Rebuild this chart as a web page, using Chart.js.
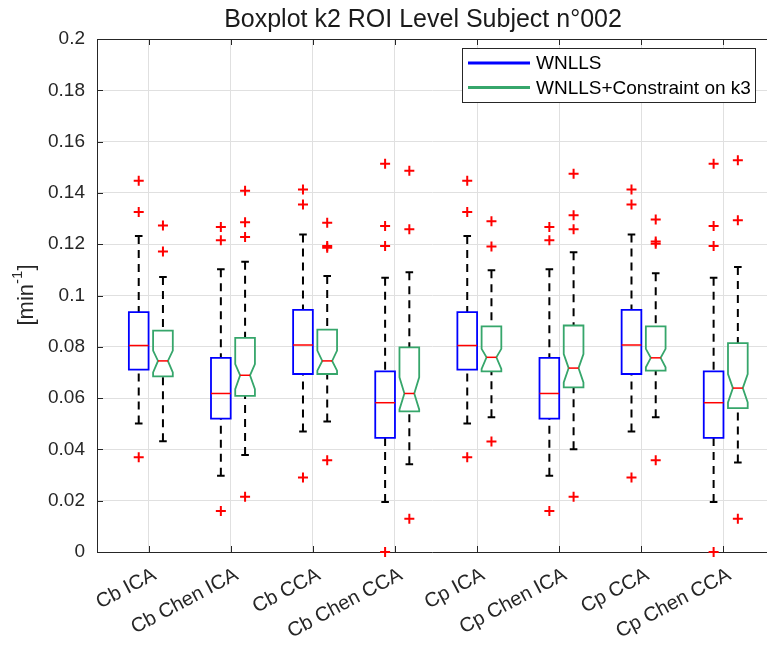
<!DOCTYPE html>
<html lang="en">
<head>
  <meta charset="UTF-8" />
  <title>Boxplot k2 ROI Level Subject n°002</title>
  <script src="https://cdn.jsdelivr.net/npm/chart.js"></script>
  <style>
    html, body { margin: 0; padding: 0; background: #fff; overflow: hidden; }
    canvas { display: block; }
  </style>
</head>
<body>
  <canvas id="boxChart" width="767" height="647"></canvas>

  <script>
    const categories = ['Cb ICA', 'Cb Chen ICA', 'Cb CCA', 'Cb Chen CCA', 'Cp ICA', 'Cp Chen ICA', 'Cp CCA', 'Cp Chen CCA'];
    const yTicks = [0, 0.02, 0.04, 0.06, 0.08, 0.1, 0.12, 0.14, 0.16, 0.18, 0.2];

    // WNLLS (plain boxes)
    const wnllsLow = [0.0501, 0.0297, 0.0470, 0.0195, 0.0501, 0.0297, 0.0470, 0.0195];
    const wnllsQ1  = [0.0711, 0.0520, 0.0694, 0.0445, 0.0711, 0.0520, 0.0694, 0.0445];
    const wnllsMed = [0.0805, 0.0618, 0.0807, 0.0582, 0.0805, 0.0618, 0.0807, 0.0582];
    const wnllsQ3  = [0.0935, 0.0757, 0.0944, 0.0704, 0.0935, 0.0757, 0.0944, 0.0704];
    const wnllsHigh = [0.1232, 0.1102, 0.1238, 0.1069, 0.1232, 0.1102, 0.1238, 0.1069];
    const wnllsOut = [
      [0.1447, 0.1326, 0.0369],
      [0.1267, 0.1215, 0.0160],
      [0.1413, 0.1355, 0.0290],
      [0.1514, 0.1271, 0.1193, 0.0],
      [0.1447, 0.1326, 0.0369],
      [0.1267, 0.1215, 0.0160],
      [0.1413, 0.1355, 0.0290],
      [0.1514, 0.1271, 0.1193, 0.0]
    ];

    // WNLLS + constraint on k3 (notched boxes)
    const consLow = [0.0432, 0.0378, 0.0509, 0.0342, 0.0525, 0.0401, 0.0525, 0.0349];
    const consQ1  = [0.0685, 0.0609, 0.0694, 0.0548, 0.0704, 0.0642, 0.0707, 0.0561];
    const consMed = [0.0745, 0.0689, 0.0745, 0.0618, 0.0759, 0.0717, 0.0757, 0.0639];
    const consQ3  = [0.0863, 0.0835, 0.0867, 0.0798, 0.0880, 0.0883, 0.0880, 0.0814];
    const consHigh = [0.1072, 0.1132, 0.1076, 0.1091, 0.1098, 0.1169, 0.1087, 0.1111];
    const consNotchLo = [0.0700, 0.0635, 0.0707, 0.0556, 0.0714, 0.0661, 0.0720, 0.0583];
    const consNotchHi = [0.0785, 0.0733, 0.0785, 0.0681, 0.0792, 0.0772, 0.0792, 0.0694];
    const consOut = [
      [0.1273, 0.1172],
      [0.1408, 0.1286, 0.1228, 0.0215],
      [0.1284, 0.1193, 0.1186, 0.0358],
      [0.1486, 0.1258, 0.0130],
      [0.1289, 0.1191, 0.0431],
      [0.1475, 0.1313, 0.1258, 0.0215],
      [0.1296, 0.1211, 0.1202, 0.0358],
      [0.1527, 0.1293, 0.0130]
    ];

    const FONT = '"Liberation Sans", Arial, Helvetica, sans-serif';
    const AXIS_COLOR = '#262626';
    const GRID_COLOR = '#e0e0e0';
    const BLUE = '#0000ff';
    const GREEN = '#36a66b';
    const RED = '#ff0000';
    const BOX_HALF = 0.12;   // half box width, in category units

    const series = [
      { name: 'WNLLS', color: BLUE, offset: -0.12,
        low: wnllsLow, q1: wnllsQ1, med: wnllsMed, q3: wnllsQ3, high: wnllsHigh, out: wnllsOut },
      { name: 'WNLLS+Constraint on k3', color: GREEN, offset: 0.175,
        low: consLow, q1: consQ1, med: consMed, q3: consQ3, high: consHigh, out: consOut,
        notchLo: consNotchLo, notchHi: consNotchHi }
    ];

    const outlierData = s => s.out.flatMap((vals, i) => vals.map(v => ({ x: i + 1 + s.offset, y: v })));

    const boxPlugin = {
      id: 'boxes',
      beforeDatasetsDraw(chart) {
        const { ctx, scales: { x, y } } = chart;
        series.forEach(s => {
          for (let i = 0; i < categories.length; i++) {
            const cx = x.getPixelForValue(i + 1 + s.offset);
            const hw = x.getPixelForValue(i + 1 + s.offset + BOX_HALF) - cx;
            const yLo = y.getPixelForValue(s.low[i]);
            const yQ1 = y.getPixelForValue(s.q1[i]);
            const yMed = y.getPixelForValue(s.med[i]);
            const yQ3 = y.getPixelForValue(s.q3[i]);
            const yHi = y.getPixelForValue(s.high[i]);
            const cap = 3.8;

            ctx.save();
            // dashed whiskers, dash pattern starts at the caps
            ctx.strokeStyle = '#000';
            ctx.lineWidth = 2;
            ctx.setLineDash([8, 6]);
            ctx.beginPath();
            ctx.moveTo(cx, yHi); ctx.lineTo(cx, yQ3);
            ctx.moveTo(cx, yLo); ctx.lineTo(cx, yQ1);
            ctx.stroke();
            ctx.setLineDash([]);
            ctx.beginPath();
            ctx.moveTo(cx - cap, yHi); ctx.lineTo(cx + cap, yHi);
            ctx.moveTo(cx - cap, yLo); ctx.lineTo(cx + cap, yLo);
            ctx.stroke();

            // box
            ctx.strokeStyle = s.color;
            ctx.lineWidth = 1.8;
            ctx.lineJoin = 'miter';
            ctx.beginPath();
            let medHalf = hw;
            if (s.notchLo) {
              const yNl = y.getPixelForValue(s.notchLo[i]);
              const yNh = y.getPixelForValue(s.notchHi[i]);
              medHalf = hw * 0.5;
              ctx.moveTo(cx - hw, yQ3);
              ctx.lineTo(cx + hw, yQ3);
              ctx.lineTo(cx + hw, yNh);
              ctx.lineTo(cx + medHalf, yMed);
              ctx.lineTo(cx + hw, yNl);
              ctx.lineTo(cx + hw, yQ1);
              ctx.lineTo(cx - hw, yQ1);
              ctx.lineTo(cx - hw, yNl);
              ctx.lineTo(cx - medHalf, yMed);
              ctx.lineTo(cx - hw, yNh);
              ctx.closePath();
            } else {
              ctx.rect(cx - hw, yQ3, hw * 2, yQ1 - yQ3);
            }
            ctx.stroke();

            // median
            ctx.strokeStyle = RED;
            ctx.lineWidth = 1.5;
            ctx.beginPath();
            ctx.moveTo(cx - medHalf, yMed);
            ctx.lineTo(cx + medHalf, yMed);
            ctx.stroke();
            ctx.restore();
          }
        });
      },
      afterDraw(chart) {
        const { ctx, chartArea: a, scales: { x, y } } = chart;
        ctx.save();

        // top edge and inward ticks
        ctx.strokeStyle = AXIS_COLOR;
        ctx.lineWidth = 1;
        ctx.beginPath();
        ctx.moveTo(a.left, a.top + 0.5);
        ctx.lineTo(a.right, a.top + 0.5);
        x.ticks.forEach(t => {
          const px = Math.round(x.getPixelForValue(t.value)) + 0.5;
          ctx.moveTo(px, a.bottom); ctx.lineTo(px, a.bottom - 6);
          ctx.moveTo(px, a.top); ctx.lineTo(px, a.top + 6);
        });
        y.ticks.forEach(t => {
          const py = Math.round(y.getPixelForValue(t.value)) + 0.5;
          ctx.moveTo(a.left, py); ctx.lineTo(a.left + 6, py);
        });
        ctx.stroke();

        // title
        ctx.fillStyle = '#1a1a1a';
        ctx.font = '25px ' + FONT;
        ctx.textAlign = 'center';
        ctx.textBaseline = 'alphabetic';
        ctx.fillText('Boxplot k2 ROI Level Subject n°002', 423, 27);

        // y axis title with superscript
        ctx.save();
        ctx.translate(27, 295);
        ctx.rotate(-Math.PI / 2);
        ctx.fillStyle = AXIS_COLOR;
        ctx.textBaseline = 'middle';
        ctx.textAlign = 'left';
        const big = '22px ' + FONT, small = '15px ' + FONT;
        ctx.font = big; const w1 = ctx.measureText('[min').width, w3 = ctx.measureText(']').width;
        ctx.font = small; const w2 = ctx.measureText('-1').width;
        let tx = -(w1 + w2 + w3) / 2;
        ctx.font = big; ctx.fillText('[min', tx, 0); tx += w1;
        ctx.font = small; ctx.fillText('-1', tx, -9); tx += w2;
        ctx.font = big; ctx.fillText(']', tx, 0);
        ctx.restore();

        // legend
        const lx = a.right - 305, ly = a.top + 9, lw = 293, lh = 54;
        ctx.fillStyle = '#fff';
        ctx.fillRect(lx, ly, lw, lh);
        ctx.strokeStyle = AXIS_COLOR;
        ctx.lineWidth = 1;
        ctx.strokeRect(lx + 0.5, ly + 0.5, lw, lh);
        ctx.font = '19px ' + FONT;
        ctx.textAlign = 'left';
        ctx.textBaseline = 'middle';
        series.forEach((s, k) => {
          const ry = ly + 15 + k * 24.5;
          ctx.strokeStyle = s.color;
          ctx.lineWidth = 3;
          ctx.beginPath();
          ctx.moveTo(lx + 6, ry); ctx.lineTo(lx + 68, ry);
          ctx.stroke();
          ctx.fillStyle = '#000';
          ctx.fillText(s.name, lx + 74, ry + 1);
        });
        ctx.restore();
      }
    };

    new Chart(document.getElementById('boxChart'), {
      type: 'scatter',
      data: {
        datasets: series.map(s => ({
          label: s.name,
          data: outlierData(s),
          pointStyle: 'cross',
          pointRadius: 5,
          pointHoverRadius: 5,
          borderColor: RED,
          backgroundColor: RED,
          borderWidth: 2,
          clip: false
        }))
      },
      options: {
        responsive: false,
        animation: false,
        events: [],
        layout: { autoPadding: false, padding: { top: 39, left: 0, right: 0, bottom: 0 } },
        plugins: { legend: { display: false }, title: { display: false }, tooltip: { enabled: false } },
        scales: {
          x: {
            type: 'linear',
            min: 0.372,
            max: 8.53,
            afterBuildTicks: axis => { axis.ticks = categories.map((c, i) => ({ value: i + 1 })); },
            afterFit: s => { s.height = 95; s.paddingLeft = 0; s.paddingRight = 0; },
            grid: { color: GRID_COLOR, drawTicks: false },
            border: { color: AXIS_COLOR, width: 1 },
            ticks: {
              autoSkip: false,
              minRotation: 28,
              maxRotation: 28,
              padding: 11,
              labelOffset: 6,
              color: AXIS_COLOR,
              font: { family: FONT, size: 20 },
              callback: v => categories[Math.round(v) - 1] || ''
            }
          },
          y: {
            min: 0,
            max: 0.2,
            afterBuildTicks: axis => { axis.ticks = yTicks.map(v => ({ value: v })); },
            afterFit: s => { s.width = 97; },
            grid: { color: GRID_COLOR, drawTicks: false },
            border: { color: AXIS_COLOR, width: 1 },
            ticks: {
              padding: 12,
              color: AXIS_COLOR,
              font: { family: FONT, size: 19 },
              callback: v => String(+v.toFixed(2))
            }
          }
        }
      },
      plugins: [boxPlugin]
    });
  </script>
</body>
</html>
